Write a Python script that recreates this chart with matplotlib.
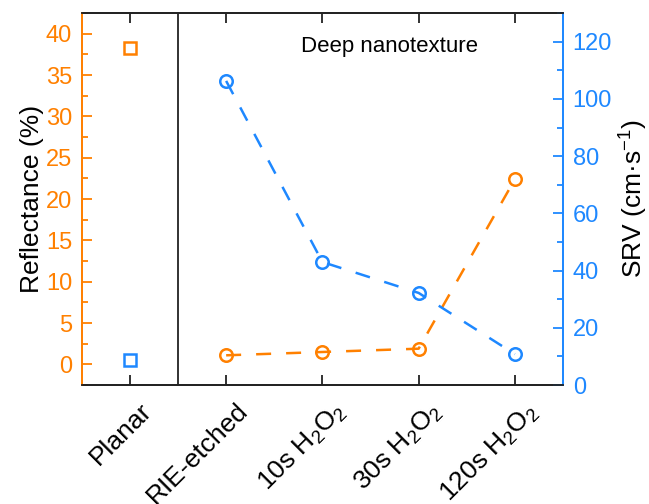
import matplotlib
matplotlib.use('Agg')
import matplotlib.pyplot as plt
import matplotlib.transforms as mtransforms
from matplotlib.ticker import MultipleLocator

plt.rcParams['font.family'] = ['Liberation Sans', 'DejaVu Sans']
plt.rcParams['mathtext.fontset'] = 'custom'
plt.rcParams['mathtext.rm'] = 'Liberation Sans'

naranja = '#FF8000'
azul = '#1E88FF'
negro = '#222222'

# datos
etiquetas = ['Planar', 'RIE-etched', r'10s H$\mathregular{_2}$O$\mathregular{_2}$',
             r'30s H$\mathregular{_2}$O$\mathregular{_2}$', r'120s H$\mathregular{_2}$O$\mathregular{_2}$']
pos_planar = [-1]
pos_nano = [0, 1, 2, 3]
refl_planar = [38.3]
srv_planar = [8.7]
refl_nano = [1.1, 1.5, 1.9, 22.4]
srv_nano = [106.3, 43.0, 32.2, 10.8]

fig = plt.figure(figsize=(6.49, 5.04), dpi=100)
ax = fig.add_axes([0.126, 0.236, 0.7415, 0.738])
ax2 = ax.twinx()

estilo = dict(markersize=9, markerfacecolor='none', markeredgewidth=1.8)

ax.plot(pos_planar, refl_planar, 's', color=naranja, **estilo)
ax.plot(pos_nano, refl_nano, 'o', color=naranja, linestyle='--', dashes=(6, 6), linewidth=1.8, **estilo)
ax2.plot(pos_planar, srv_planar, 's', color=azul, **estilo)
ax2.plot(pos_nano, srv_nano, 'o', color=azul, linestyle='--', dashes=(6, 6), linewidth=1.8, **estilo)

ax.axvline(-0.5, color=negro, linewidth=1.3)

ax.set_xlim(-1.5, 3.5)
ax.set_ylim(-2.5, 42.5)
ax2.set_ylim(0, 130)

ax.set_xticks([-1, 0, 1, 2, 3])
ax.set_xticklabels(etiquetas, rotation=45, ha='right', va='top', rotation_mode='anchor', fontsize=19)
ax.tick_params(axis='x', direction='in', top=True, length=7, width=1.3, color=negro, pad=4)
desplazar = mtransforms.ScaledTranslation(10 / 100, -8 / 100, fig.dpi_scale_trans)
for lbl in ax.get_xticklabels():
    lbl.set_transform(lbl.get_transform() + desplazar)

ax.yaxis.set_major_locator(MultipleLocator(5))
ax.yaxis.set_minor_locator(MultipleLocator(2.5))
ax.tick_params(axis='y', which='both', direction='in', colors=naranja, labelsize=17, pad=7, width=1.3)
ax.tick_params(axis='y', which='major', length=7)
ax.tick_params(axis='y', which='minor', length=4)

ax2.yaxis.set_major_locator(MultipleLocator(20))
ax2.yaxis.set_minor_locator(MultipleLocator(10))
ax2.tick_params(axis='y', which='both', direction='in', colors=azul, labelsize=17, pad=7, width=1.3)
ax2.tick_params(axis='y', which='major', length=7)
ax2.tick_params(axis='y', which='minor', length=4)

for a in (ax, ax2):
    for s in a.spines.values():
        s.set_linewidth(1.3)
        s.set_color(negro)
    a.spines['left'].set_color(naranja)
    a.spines['right'].set_color(azul)

ax.set_ylabel('Reflectance (%)', fontsize=19, labelpad=1)
ax2.set_ylabel(r'SRV (cm·s$\mathregular{^{-1}}$)', fontsize=19, labelpad=4)

ax.text(1.7, 38.5, 'Deep nanotexture', fontsize=16, ha='center', va='center')

plt.savefig('out.png', dpi=100)
plt.close()
